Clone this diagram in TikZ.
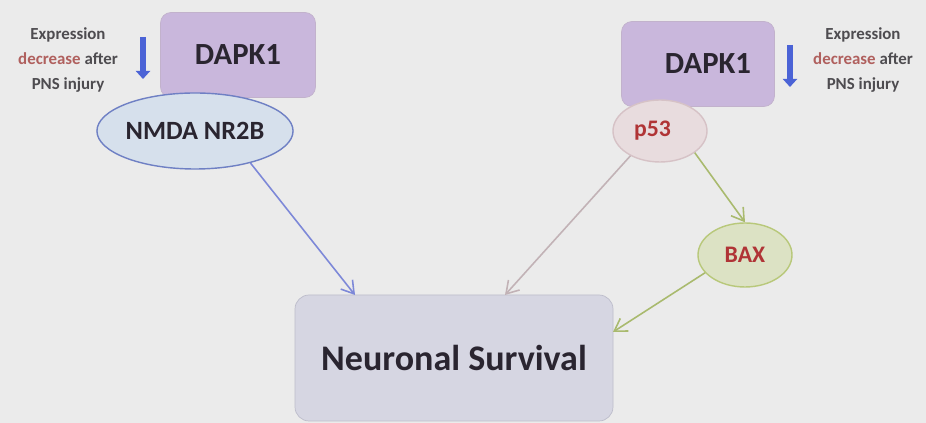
\documentclass[tikz,border=0pt]{standalone}
\usepackage{fontspec}
\setmainfont{Carlito}
\usetikzlibrary{arrows.meta,shapes.geometric}
\definecolor{bgc}{HTML}{EBEBEB}
\definecolor{dapkfill}{HTML}{C9B7DC}
\definecolor{dapkline}{HTML}{C2B2CC}
\definecolor{nmdafill}{HTML}{D6E0EC}
\definecolor{nmdaline}{HTML}{6F80C4}
\definecolor{pfill}{HTML}{E8DCDE}
\definecolor{pline}{HTML}{D6C2C6}
\definecolor{baxfill}{HTML}{DCE2C4}
\definecolor{baxline}{HTML}{B8C87A}
\definecolor{nsfill}{HTML}{D6D6E2}
\definecolor{nsline}{HTML}{BDBDCB}
\definecolor{darktext}{HTML}{2A2530}
\definecolor{redtext}{HTML}{B03436}
\definecolor{greytext}{HTML}{4E4C50}
\definecolor{decrcol}{HTML}{B0605E}
\definecolor{bluearrow}{HTML}{7D88D8}
\definecolor{pinkarrow}{HTML}{C2B2B6}
\definecolor{greenarrow}{HTML}{A9BA6E}
\definecolor{fatblue}{HTML}{4B63D6}
\begin{document}
\begin{tikzpicture}[
		font=\bfseries,
		dapkbox/.style={draw=dapkline, fill=dapkfill, rounded corners=6pt, minimum width=3.1cm, minimum height=1.7cm, text=darktext, font=\fontsize{17.5}{20}\bfseries},
		blob/.style={ellipse, line width=0.8pt, inner sep=0pt},
		note/.style={align=center, text=greytext, font=\fontsize{9.6}{14.5}\bfseries},
		link/.style={line width=0.9pt, -{Straight Barb[length=2.4mm,width=3mm]}},
		fatarrow/.style={fatblue, line width=1.1mm, -{Triangle[length=1.6mm,width=2.8mm]}}
	]
			\fill[bgc] (0,0) rectangle (18.52,8.46);
			\useasboundingbox (0,0) rectangle (18.52,8.46);
			
			\node[dapkbox] (dapkl) at (4.76,7.36) {DAPK1};
			\node[dapkbox, minimum width=3.06cm] (dapkr) at (13.96,7.18) {\hspace{0.4cm}DAPK1};
			
			\node[blob, draw=nmdaline, fill=nmdafill, minimum width=3.32cm, minimum height=1.52cm, text=darktext, font=\fontsize{15}{18}\bfseries] (nmda) at (3.90,5.84) {NMDA NR2B};
			\node[blob, draw=pline, fill=pfill, minimum width=1.88cm, minimum height=1.24cm, text=redtext, font=\fontsize{13.5}{16}\bfseries] (p53) at (13.20,5.84) {\hspace{-0.3cm}p53};
			\node[blob, draw=baxline, fill=baxfill, minimum width=1.88cm, minimum height=1.28cm, text=redtext, font=\fontsize{13.5}{16}\bfseries] (bax) at (14.90,3.36) {BAX};
			
			\node[draw=nsline, fill=nsfill, rounded corners=8pt, minimum width=6.36cm, minimum height=2.52cm, text=darktext, font=\fontsize{20.5}{24}\bfseries] (ns) at (9.08,1.30) {Neuronal Survival};
			
			\node[note] (notel) at (1.36,7.26) {Expression\\\textcolor{decrcol}{decrease} after\\PNS injury};
			\node[note] (noter) at (17.26,7.26) {Expression\\\textcolor{decrcol}{decrease} after\\PNS injury};
			
			\coordinate (downl) at (2.86,7.72);
			\coordinate (downlend) at (2.86,6.88);
			\coordinate (downr) at (15.80,7.56);
			\coordinate (downrend) at (15.80,6.72);
			\draw[fatarrow] (downl) -- (downlend);
			\draw[fatarrow] (downr) -- (downrend);
			
			\coordinate (nsin1) at (7.10,2.56);
			\coordinate (nsin2) at (10.10,2.56);
			\coordinate (nsin3) at (12.26,1.82);
			\draw[link, bluearrow] (nmda.-30) -- (nsin1);
			\draw[link, pinkarrow] (p53.220) -- (nsin2);
			\draw[link, greenarrow] (p53.-32) -- (bax.north);
			\draw[link, greenarrow] (bax.204) -- (nsin3);
			
		\end{tikzpicture}
\end{document}
